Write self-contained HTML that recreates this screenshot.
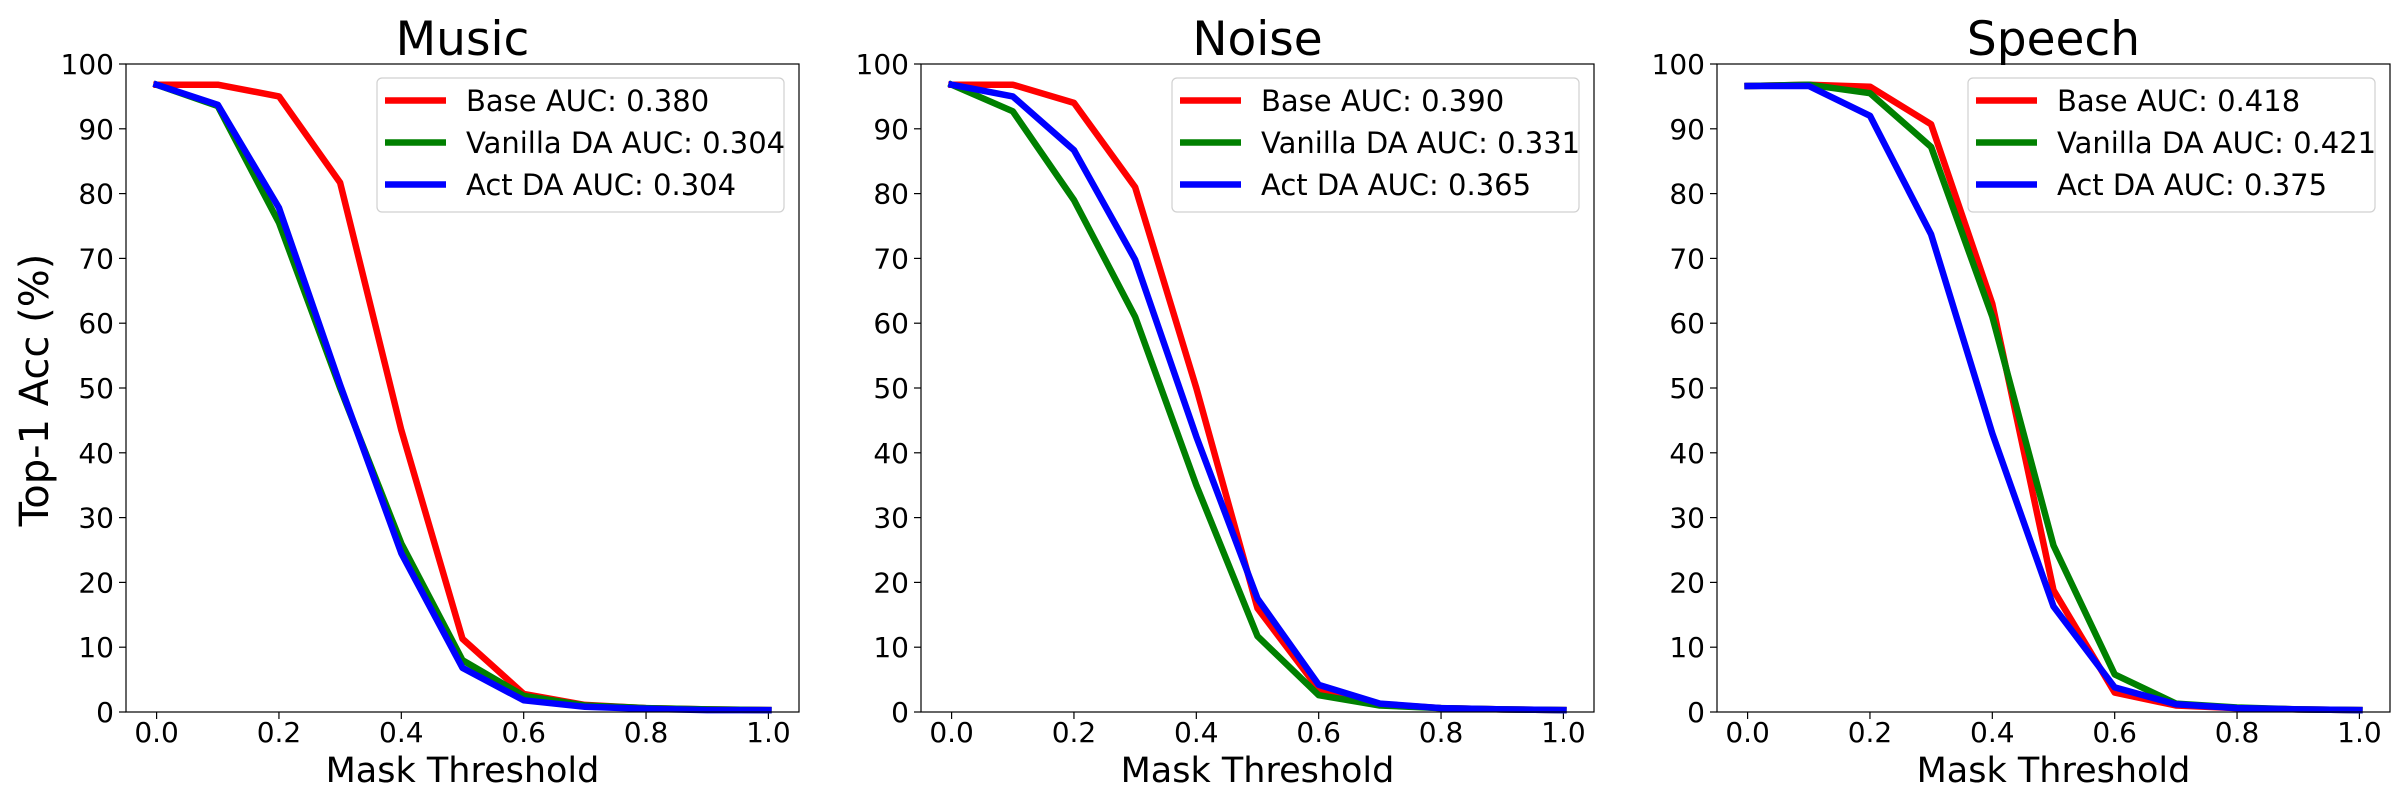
<!DOCTYPE html>
<html><head><meta charset="utf-8"><style>
html,body{margin:0;padding:0;background:#fff;}
svg{display:block;font-family:"DejaVu Sans","Liberation Sans",sans-serif;}
</style></head><body>
<svg id="chart" width="2400" height="800" xmlns="http://www.w3.org/2000/svg"></svg>
<script>
const xValues = [0,0.1,0.2,0.3,0.4,0.5,0.6,0.7,0.8,0.9,1.0];
const xTicks = [0,0.2,0.4,0.6,0.8,1.0];
const xTickLabels = ["0.0","0.2","0.4","0.6","0.8","1.0"];
const yTicks = [0,10,20,30,40,50,60,70,80,90,100];
const panelTitles = ["Music","Noise","Speech"];
const seriesNames = ["Base","Vanilla DA","Act DA"];
const seriesColors = ["#ff0000","#008000","#0000ff"];
const musicBase = [96.8,96.8,95,81.7,43.5,11.3,2.8,1.1,0.6,0.4,0.3];
const musicVanilla = [96.8,93.5,75.5,50,26,8,2.5,1,0.6,0.4,0.3];
const musicAct = [96.8,93.7,77.8,50.5,24.5,6.8,1.8,0.8,0.5,0.3,0.3];
const noiseBase = [96.8,96.8,94,81,50,16,3.5,1.2,0.6,0.4,0.3];
const noiseVanilla = [96.8,92.7,79,61,35,11.7,2.6,1,0.6,0.4,0.3];
const noiseAct = [96.8,95,86.7,69.8,42.5,17.5,4.2,1.3,0.6,0.4,0.3];
const speechBase = [96.6,96.8,96.5,90.7,63,18.8,3,1,0.6,0.4,0.3];
const speechVanilla = [96.6,96.8,95.5,87.2,61,25.7,5.8,1.3,0.7,0.4,0.3];
const speechAct = [96.6,96.6,92,73.7,43,16.3,3.8,1.2,0.6,0.4,0.3];
const aucMusic = ["0.380","0.304","0.304"];
const aucNoise = ["0.390","0.331","0.365"];
const aucSpeech = ["0.418","0.421","0.375"];

const panelData = [[musicBase,musicVanilla,musicAct],[noiseBase,noiseVanilla,noiseAct],[speechBase,speechVanilla,speechAct]];
const panelAuc = [aucMusic,aucNoise,aucSpeech];
const panelLeft = [126,921,1717];
const AXW = 673, TOP = 64, BOT = 712;
const NS = "http://www.w3.org/2000/svg";
const svg = document.getElementById('chart');
function mk(tag, attrs, parent){const e=document.createElementNS(NS,tag);for(const k in attrs)e.setAttribute(k,attrs[k]);(parent||svg).appendChild(e);return e;}

panelTitles.forEach((title,p)=>{
  const L = panelLeft[p];
  const g = mk('g',{});
  
  
  const xs = v => L + AXW*(0.05 + v)/1.1;
  const ys = v => BOT - (BOT-TOP)*v/100;
  const t = mk('text',{x:L+AXW/2,y:55,'text-anchor':'middle','font-size':47},g);
  t.textContent = title;
  
  
  yTicks.forEach(v=>{
    const y = ys(v);
    const tk = mk('line',{x1:L-7,x2:L,y1:y,y2:y,stroke:'#000','stroke-width':1.2},g);
    
    
    const lb = mk('text',{x:L-12,y:y+10,'text-anchor':'end','font-size':28},g);
    lb.textContent = v;
    
    
  });
  xTicks.forEach((v,i)=>{
    const x = xs(v);
    const tk = mk('line',{x1:x,x2:x,y1:BOT,y2:BOT+7,stroke:'#000','stroke-width':1.2},g);
    
    
    const lb = mk('text',{x:x,y:742,'text-anchor':'middle','font-size':28},g);
    lb.textContent = xTickLabels[i];
    
    
  });
  const xl = mk('text',{x:L+AXW/2,y:782,'text-anchor':'middle','font-size':35},g);
  xl.textContent = 'Mask Threshold';
  
  
  panelData[p].forEach((arr,s)=>{
    const pts = arr.map((v,i)=>xs(xValues[i]).toFixed(1)+','+ys(v).toFixed(1)).join(' ');
    const pl = mk('polyline',{points:pts,fill:'none',stroke:seriesColors[s],'stroke-width':6.5,'stroke-linejoin':'round','stroke-linecap':'square'},g);
    
    
  });
  const fr = mk('rect',{x:L,y:TOP,width:AXW,height:BOT-TOP,fill:'none',stroke:'#000','stroke-width':1.2},g);
  
  
  const lx = L + AXW - 422, ly = 78;
  const lg = mk('g',{},g);
  
  
  mk('rect',{x:lx,y:ly,width:407,height:134,rx:5,fill:'#fff','fill-opacity':0.8,stroke:'#d0d0d0','stroke-width':1.2},lg);
  seriesNames.forEach((n,s)=>{
    const y = ly + 22.5 + 42*s;
    const ln = mk('line',{x1:lx+8,x2:lx+69,y1:y,y2:y,stroke:seriesColors[s],'stroke-width':6.5},lg);
    
    
    const tx = mk('text',{x:lx+89,y:y+10.5,'font-size':29},lg);
    tx.textContent = n+' AUC: '+panelAuc[p][s];
    
    
  });
});
const yl = mk('text',{x:0,y:0,'text-anchor':'middle','font-size':40,transform:'translate(48,390) rotate(-90)'});
yl.textContent = 'Top-1 Acc (%)';


</script>
</body></html>
